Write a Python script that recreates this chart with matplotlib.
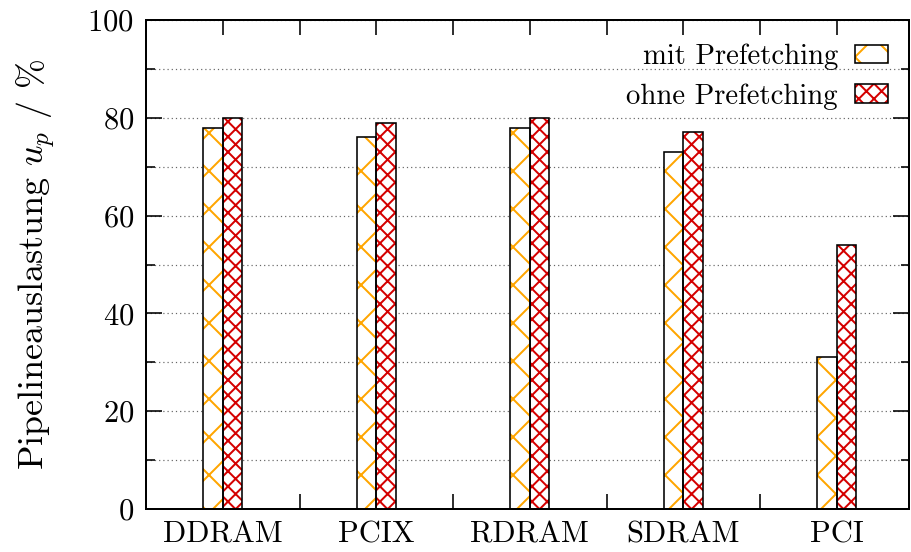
import matplotlib
matplotlib.use("Agg")
import matplotlib.pyplot as plt
from matplotlib.patches import Patch
from matplotlib.legend_handler import HandlerTuple
from matplotlib.ticker import MultipleLocator, FixedLocator
import numpy as np

categories = ["DDRAM", "PCIX", "RDRAM", "SDRAM", "PCI"]
mit_prefetching = [78, 76, 78, 73, 31]
ohne_prefetching = [80, 79, 80, 77, 54]
series_labels = ["mit Prefetching", "ohne Prefetching"]
ylabel = r"Pipelineauslastung $u_p$ / %"

DPI = 228


def px(v):
    return v * 72.0 / DPI


plt.rcParams['font.family'] = ['cmr10', 'DejaVu Serif']
plt.rcParams['mathtext.fontset'] = 'cm'
plt.rcParams['axes.formatter.use_mathtext'] = True
plt.rcParams['hatch.linewidth'] = px(2.0)

fig = plt.figure(figsize=(911 / DPI, 552 / DPI), dpi=DPI)
ax = fig.add_axes([146 / 911, 1 - 509 / 552, (909 - 146) / 911, (509 - 20) / 552])

FS = px(30.5)
LFS = px(28.7)
orange = '#ffa500'
red = '#d40000'
hatch_mit = 'xx'
hatch_ohne = 'xxxxx'
w = 0.127
x = np.arange(len(categories))

ax.bar(x - w, mit_prefetching, width=w, align='edge', facecolor='white',
       edgecolor=orange, hatch=hatch_mit, linewidth=0, zorder=2)
ax.bar(x - w, mit_prefetching, width=w, align='edge', fill=False,
       edgecolor='black', linewidth=px(1.6), zorder=3)
ax.bar(x, ohne_prefetching, width=w, align='edge', facecolor='white',
       edgecolor=red, hatch=hatch_ohne, linewidth=0, zorder=2)
ax.bar(x, ohne_prefetching, width=w, align='edge', fill=False,
       edgecolor='black', linewidth=px(1.6), zorder=3)

ax.set_xlim(-0.5, 4.47)
ax.set_ylim(0, 100)

ax.yaxis.set_major_locator(MultipleLocator(20))
ax.yaxis.set_minor_locator(MultipleLocator(10))
ax.set_xticks(x)
ax.set_xticklabels(categories, fontsize=FS)
ax.xaxis.set_minor_locator(FixedLocator(x[:-1] + 0.5))

ax.tick_params(axis='x', which='major', bottom=False, top=True, direction='in',
               length=px(15), width=px(1.6), labelbottom=True, pad=px(12))
ax.tick_params(axis='x', which='minor', bottom=True, top=True, direction='in',
               length=px(15), width=px(1.6))
ax.tick_params(axis='y', which='major', left=True, right=True, direction='in',
               length=px(16), width=px(1.6), labelsize=FS, pad=px(12))
ax.tick_params(axis='y', which='minor', left=True, right=True, direction='in',
               length=px(8.5), width=px(1.6))
for lab in ax.get_yticklabels():
    lab.set_fontsize(FS)

ax.set_axisbelow(True)
ax.grid(axis='y', which='both', color='#666666', linestyle=(0, (1, 2.5)), linewidth=px(1.2))
for s in ax.spines.values():
    s.set_linewidth(px(2.0))

ax.set_ylabel(ylabel, fontsize=FS * 1.18, labelpad=px(30))

h1 = (Patch(facecolor='white', edgecolor=orange, hatch=hatch_mit, linewidth=0),
      Patch(fill=False, edgecolor='black', linewidth=px(1.6)))
h2 = (Patch(facecolor='white', edgecolor=red, hatch=hatch_ohne, linewidth=0),
      Patch(fill=False, edgecolor='black', linewidth=px(1.6)))
ax.legend([h1, h2], series_labels, handler_map={tuple: HandlerTuple(ndivide=1)},
          loc='upper right', bbox_to_anchor=((888 - 146) / 763, (509 - 44) / 489),
          frameon=False, markerfirst=False, fontsize=LFS, borderpad=0, borderaxespad=0,
          handlelength=1.15, handleheight=0.6, handletextpad=0.6, labelspacing=0.44)

fig.savefig("out.png", dpi=DPI)
